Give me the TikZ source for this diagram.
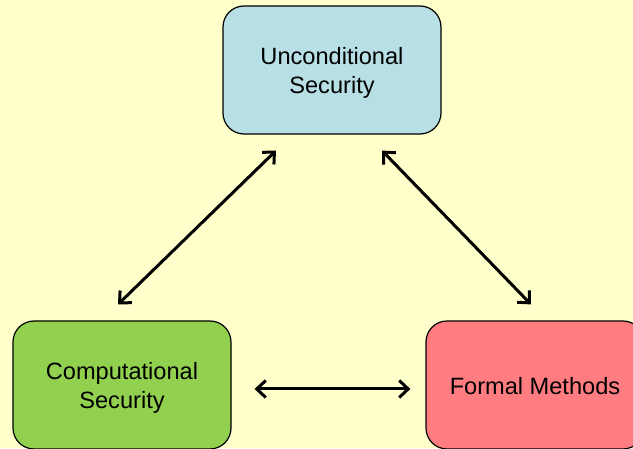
\documentclass[tikz,border=0pt]{standalone}
\usepackage{tikz}
\usepackage{xcolor}
\usepackage{fontspec}
\setmainfont{Liberation Sans}
\usetikzlibrary{positioning}
\usetikzlibrary{arrows.meta}
\usetikzlibrary{calc}
\definecolor{bgColor}{RGB}{255,255,204}
\definecolor{uncondColor}{RGB}{183,223,229}
\definecolor{compColor}{RGB}{146,208,80}
\definecolor{formalColor}{RGB}{255,124,128}

\begin{document}
\begin{tikzpicture}[x=1pt,y=1pt,
  secbox/.style={draw=black, line width=1.2pt, rounded corners=21pt,
    minimum width=218pt, minimum height=128pt},
  sectext/.style={align=center, font=\fontsize{23.6}{29}\selectfont},
  biarrow/.style={line width=3pt, {Straight Barb[length=9pt,width=17pt]}-{Straight Barb[length=9pt,width=17pt]}},
]
\fill [bgColor] (0,0) rectangle (633,448);
\useasboundingbox (0,0) rectangle (633,448);

\node [secbox, fill=uncondColor] (uncond) at (332,378) {};
\node [secbox, fill=compColor] (comp) at (122,63) {};
\node [secbox, fill=formalColor] (formal) at (535,63) {};

\node [sectext] (uncondText) at ($(uncond.center)+(0,-3)$) {Unconditional\\Security};
\node [sectext] (compText) at ($(comp.center)+(0,-3)$) {Computational\\Security};
\node [sectext] (formalText) at ($(formal.center)+(0,-1)$) {Formal Methods};

\draw [biarrow] ($(comp.north)+(-4,16)$) -- ($(uncond.south)+(-56,-16)$);
\draw [biarrow] ($(uncond.south)+(50,-16)$) -- ($(formal.north)+(-4,16)$);
\draw [biarrow] ($(comp.east)+(23,-4)$) -- ($(formal.west)+(-15,-4)$);
\end{tikzpicture}
\end{document}
